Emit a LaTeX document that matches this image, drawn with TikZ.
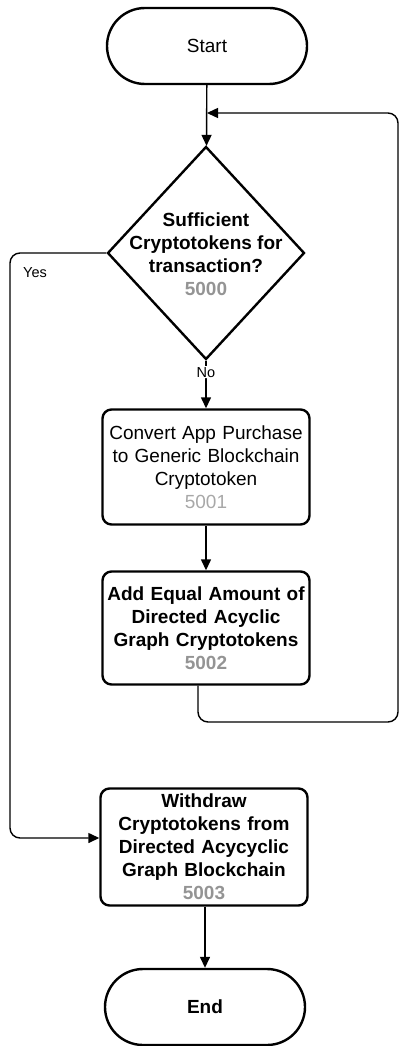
\documentclass[tikz,border=0pt]{standalone}
\usepackage{fontspec}
\setmainfont{Liberation Sans}
\usetikzlibrary{arrows.meta,shapes.geometric,shapes.misc}

\begin{document}
\begin{tikzpicture}[x=1pt,y=-1pt,>={Triangle[length=11pt,width=10pt]}]

% colors
\colorlet{cNum}{black!42}
\colorlet{cNumLight}{black!34}

% styles
\tikzset{
  terminal/.style={draw,line width=2.4pt,rounded rectangle,minimum width=200pt,
    minimum height=76pt,inner sep=0pt,font=\fontsize{19}{23}\selectfont},
  procbox/.style={draw,line width=2.4pt,rounded corners=9pt,minimum width=207pt,
    text width=200pt,align=center,inner sep=0pt,font=\fontsize{19}{23}\selectfont},
  decision/.style={draw,line width=2.4pt,diamond,minimum width=197pt,
    minimum height=213pt,inner sep=0pt},
  flow/.style={->,line width=1.4pt,rounded corners=10pt},
  lbl/.style={font=\fontsize{14.5}{17}\selectfont,inner sep=1pt}
}

\useasboundingbox (0,0) rectangle (400,1046);

% start and end
\node[terminal] (start) at (207,46) {Start};
\node[terminal,font=\fontsize{19}{23}\selectfont\bfseries] (fin) at (205,1007) {End};

% decision 5000
\node[decision] (dec) at (206,253) {};
\node[align=center,font=\fontsize{19}{23}\selectfont\bfseries] (decTxt) at (206,254)
  {Sufficient\\Cryptotokens for\\transaction?\\\textcolor{cNum}{5000}};

% process steps
\node[procbox,minimum height=115pt] (conv) at (206,467)
  {Convert App Purchase\\to Generic Blockchain\\Cryptotoken\\\textcolor{cNumLight}{5001}};
\node[procbox,minimum height=113pt,font=\fontsize{19}{23}\selectfont\bfseries] (add) at (206,628)
  {Add Equal Amount of\\Directed Acyclic\\Graph Cryptotokens\\\textcolor{cNum}{5002}};
\node[procbox,minimum height=117pt,font=\fontsize{19}{23}\selectfont\bfseries] (wd) at (204,847)
  {Withdraw\\Cryptotokens from\\Directed Acycyclic\\Graph Blockchain\\\textcolor{cNum}{5003}};

% helper points of the side connectors
\coordinate (loopR) at (398,722);
\coordinate (loopT) at (398,113);
\coordinate (yesL) at (10,838);

% connectors
\draw[flow] (start) -- (dec);
\draw[flow] (dec.south) -- node[lbl,fill=white,pos=0.24] (no) {No} (conv.north);
\draw[flow] (conv) -- (add);
\draw[flow] ([xshift=-8pt]add.south) |- (loopR) -- (loopT) -- (start.south |- loopT);
\draw[flow] (dec.west) -| (yesL) -- (yesL -| wd.west);
\draw[flow] (wd.south -| fin.north) -- (fin.north);

% branch label
\node[lbl] (yes) at (35,273) {Yes};

\end{tikzpicture}
\end{document}
